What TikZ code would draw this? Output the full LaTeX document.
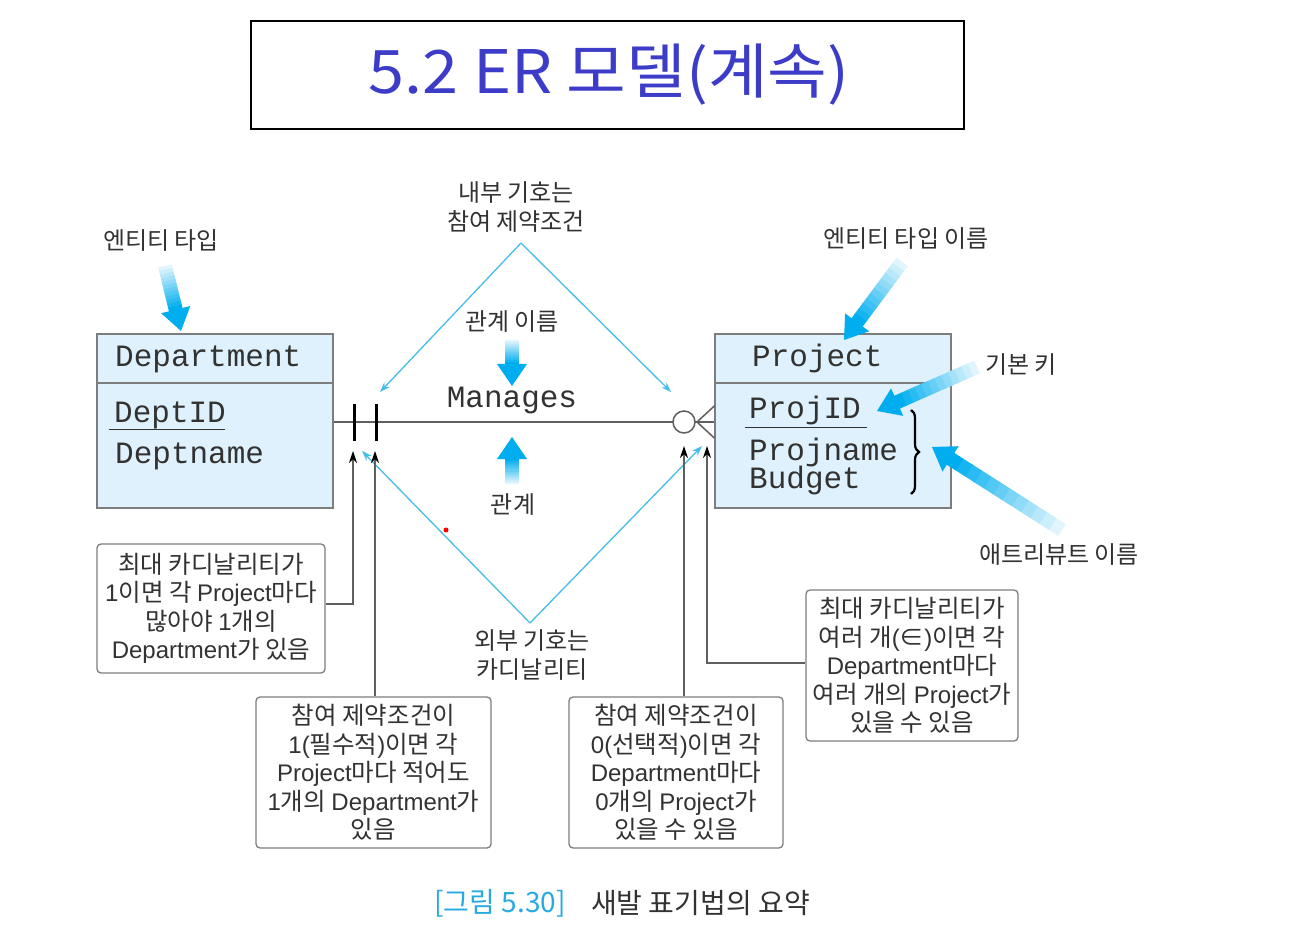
\documentclass[tikz,border=0pt]{standalone}
\usepackage{fontspec}
\setmainfont{Noto Sans CJK KR}
\newfontfamily\monof{Liberation Mono}
\newfontfamily\latfam{Liberation Sans}
\newfontfamily\titlef[FakeStretch=1.08]{Noto Sans CJK KR}
\newcommand{\la}[1]{{\latfam\fontsize{24}{28.5}\selectfont #1}}
\usetikzlibrary{arrows.meta,calc,decorations.pathreplacing}
\definecolor{fatc}{RGB}{0,174,239}
\definecolor{thinb}{RGB}{70,190,235}
\definecolor{txt}{RGB}{50,50,50}
\definecolor{entfill}{RGB}{222,241,252}
\definecolor{entline}{RGB}{125,125,125}
\definecolor{linec}{RGB}{95,95,95}
\definecolor{titlec}{RGB}{60,60,200}
\definecolor{capc}{RGB}{40,170,225}
\newcommand{\fatarrow}[2]{%
  \path let \p1=($(#2)-(#1)$), \n1={atan2(\y1,\x1)}, \n2={veclen(\x1,\y1)} in \pgfextra{\xdef\fatang{\n1}\xdef\fatlen{\n2}};%
  \begin{scope}[shift={(#1)}, rotate=\fatang]
    \pgfmathsetmacro\fatsl{\fatlen-22}%
    \foreach \i in {0,...,11}{%
      \pgfmathtruncatemacro\fatpc{12+\i*8}%
      \fill[fatc!\fatpc!white] ({\i*\fatsl/12},-7) rectangle ({(\i+1)*\fatsl/12+0.6},7);
    }
    \fill[fatc] (\fatsl,-15) -- (\fatlen,0) -- (\fatsl,15) -- cycle;
  \end{scope}}
\begin{document}
\begin{tikzpicture}[x=1pt,y=-1pt,
  lab/.style={font=\fontsize{24}{28.5}\selectfont, text=txt, align=center, inner sep=0},
  note/.style={draw=entline, rounded corners=4, line width=1.3, fill=white, align=center,
     font=\fontsize{24.5}{28.5}\selectfont, text=txt, inner sep=0},
  entity/.style={draw=entline, fill=entfill, line width=1.4, inner sep=0},
  mono/.style={font=\monof\fontsize{31}{31}\selectfont, text=txt, inner sep=0, anchor=base west},
  thinarrow/.style={thinb, line width=1.3, -{Stealth[length=10pt,width=7pt]}},
  conn/.style={linec, line width=1.2, -{Stealth[length=12pt,width=8pt,black]}}]
\useasboundingbox[fill=white] (0,0) rectangle (1294,925);

% title
\node[draw=black, line width=2, minimum width=713, minimum height=108, inner sep=0] (title) at (607.5,75) {};
\node[font=\titlef\fontsize{60}{60}\selectfont, text=titlec, inner sep=0] (titletext) at (609,75) {5.2 ER 모델(계속)};

% entities
\node[entity, minimum width=236, minimum height=174] (dept) at (215,421) {};
\draw[entline, line width=1.4] (dept.west |- 0,383) -- (dept.east |- 0,383);
\node[mono] (deptname) at (115,367) {Department};
\node[mono] (deptid) at (114,422) {DeptID};
\draw[txt, line width=1] (109,429.5) -- (225,429.5);
\node[mono] (deptnm) at (115,464) {Deptname};

\node[entity, minimum width=236, minimum height=174] (proj) at (833,421) {};
\draw[entline, line width=1.4] (proj.west |- 0,383) -- (proj.east |- 0,383);
\node[mono] (projname) at (752,367) {Project};
\node[mono] (projid) at (749,419) {ProjID};
\draw[txt, line width=1] (745,427.5) -- (867,427.5);
\node[mono] (projnm) at (749,460) {Projname};
\node[mono] (budget) at (749,488) {Budget};
\draw[black, line width=2.2, decorate, decoration={brace, amplitude=8pt}] (911,410) -- (911,494);

% relationship
\coordinate (rel) at (512,422);
\draw[linec, line width=1.5] (dept.east |- rel) -- (proj.west |- rel);
\draw[black, line width=3] (354,404) -- (354,441);
\draw[black, line width=3] (376,404) -- (376,441);
\draw[linec, line width=1.5] (697,422) -- (proj.west |- 0,406);
\draw[linec, line width=1.5] (697,422) -- (proj.west |- 0,438);
\node[circle, draw=linec, fill=white, line width=1.5, minimum size=22, inner sep=0] (opt) at (684,422) {};
\node[mono, anchor=base] (manages) at (512,408) {Manages};

% labels
\node[lab] (l1) at (161,241) {엔티티 타입};
\node[lab] (l2) at (516,207) {내부 기호는\\참여 제약조건};
\node[lab] (l3) at (512,322) {관계 이름};
\node[lab] (l4) at (513,505) {관계};
\node[lab] (l5) at (532,655) {외부 기호는\\카디날리티};
\node[lab] (l6) at (906,239) {엔티티 타입 이름};
\node[lab] (l7) at (1021,365) {기본 키};
\node[lab] (l8) at (1059,555) {애트리뷰트 이름};

% fat arrows
\coordinate (f1s) at (165,266); \coordinate (f1e) at (181,331);
\coordinate (f2s) at (512,340); \coordinate (f2e) at (512,386);
\coordinate (f3s) at (512,484); \coordinate (f3e) at (512,437);
\coordinate (f4s) at (902,262); \coordinate (f4e) at (844,340);
\coordinate (f5s) at (977,367); \coordinate (f5e) at (877,411);
\coordinate (f6s) at (1062,530); \coordinate (f6e) at (932,447);
\fatarrow{f1s}{f1e}
\fatarrow{f2s}{f2e}
\fatarrow{f3s}{f3e}
\fatarrow{f4s}{f4e}
\fatarrow{f5s}{f5e}
\fatarrow{f6s}{f6e}

% thin blue arrows
\coordinate (tapex) at (521,243);
\coordinate (bapex) at (530,623);
\coordinate (tl) at (380,392);
\coordinate (tr) at (671,392);
\coordinate (bl) at (362,451);
\coordinate (br) at (702,446);
\draw[thinarrow] (tapex) -- (tl);
\draw[thinarrow] (tapex) -- (tr);
\draw[thinarrow] (bapex) -- (bl);
\draw[thinarrow] (bapex) -- (br);

% notes
\node[note, minimum width=228, minimum height=129] (n1) at (211,608.5)
  {최대 카디날리티가\\\la{1}이면 각 \la{Project}마다\\많아야 \la{1}개의\\\la{Department}가 있음};
\node[note, minimum width=235, minimum height=151] (n2) at (373.5,772.5)
  {참여 제약조건이\\\la{1(}필수적\la{)}이면 각\\\la{Project}마다 적어도\\\la{1}개의 \la{Department}가\\있음};
\node[note, minimum width=214, minimum height=151] (n3) at (676,772.5)
  {참여 제약조건이\\\la{0(}선택적\la{)}이면 각\\\la{Department}마다\\\la{0}개의 \la{Project}가\\있을 수 있음};
\node[note, minimum width=212, minimum height=151] (n4) at (912,665.5)
  {최대 카디날리티가\\여러 개\la{(}∈\la{)}이면 각\\\la{Department}마다\\여러 개의 \la{Project}가\\있을 수 있음};

% connectors
\coordinate (ta) at (353,451);
\coordinate (tb) at (375,451);
\coordinate (tc) at (684,446);
\coordinate (td) at (707,446);
\draw[conn] (n1.east |- 0,604) -| (ta);
\draw[conn] (n2.north -| tb) -- (tb);
\draw[conn] (n3.north -| tc) -- (tc);
\draw[conn] (n4.west |- 0,663) -| (td);

\fill[red] (446,530) circle (2.5);

% caption
\node[font=\fontsize{28}{28}\selectfont, text=capc, inner sep=0] (cap1) at (500,903) {[그림 5.30]};
\node[font=\fontsize{28}{28}\selectfont, text=txt, inner sep=0] (cap2) at (700.5,903) {새발 표기법의 요약};
\end{tikzpicture}
\end{document}
